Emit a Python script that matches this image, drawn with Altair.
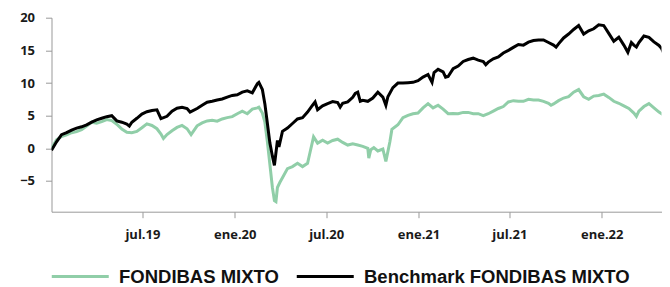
import altair as alt
import pandas as pd

START = "2019-01-01"
fund_name = "FONDIBAS MIXTO"
bench_name = "Benchmark FONDIBAS MIXTO"

# days since START
fund_days = [0, 10, 20, 30, 40, 50, 60, 70, 80, 90, 100, 110, 120, 130, 140, 150, 160, 170, 180, 190,
             200, 210, 218, 223, 230, 240, 250, 260, 270, 278, 290, 300, 310, 320, 330, 340, 350, 360,
             370, 380, 390, 400, 410, 413, 420, 425, 430, 435, 440, 444, 447, 450, 455, 460, 470, 480,
             490, 500, 510, 515, 522, 530, 540, 550, 560, 570, 580, 590, 600, 610, 620, 630, 632, 636,
             642, 650, 660, 666, 670, 674, 678, 690, 700, 710, 720, 730, 740, 750, 760, 770, 780, 790,
             800, 810, 820, 830, 840, 850, 860, 870, 880, 890, 900, 910, 920, 930, 940, 950, 960, 970,
             980, 990, 995, 1000, 1010, 1020, 1030, 1040, 1050, 1060, 1070, 1080, 1090, 1100, 1110,
             1120, 1130, 1140, 1150, 1160, 1165, 1170, 1180, 1190, 1200, 1210, 1220, 1225, 1233]
fund_values = [0.0, 1.3, 1.8, 2.05, 2.4, 2.55, 2.85, 3.4, 4.0, 3.85, 4.1, 4.4, 4.25, 3.7, 2.95, 2.45,
               2.4, 2.6, 3.15, 3.75, 3.5, 3.0, 2.2, 1.5, 2.1, 2.7, 3.2, 3.5, 3.0, 2.1, 3.45, 3.9, 4.2,
               4.3, 4.15, 4.5, 4.7, 4.85, 5.3, 5.7, 5.3, 6.0, 6.2, 6.3, 5.4, 4.0, 1.0, -2.5, -6.0, -8.0,
               -8.15, -6.0, -5.2, -4.5, -3.1, -2.8, -2.3, -2.8, -2.3, -0.6, 1.75, 0.8, 1.25, 0.8, 1.2,
               1.4, 0.9, 0.5, 0.7, 0.5, 0.3, 0.0, -1.5, -0.2, 0.1, -0.4, -0.1, -2.0, -0.5, 1.0, 2.9,
               3.6, 4.7, 5.05, 5.3, 5.4, 6.2, 6.85, 6.2, 6.6, 6.0, 5.3, 5.35, 5.3, 5.5, 5.5, 5.3, 5.3,
               5.0, 5.3, 5.7, 6.1, 6.4, 7.1, 7.3, 7.2, 7.2, 7.5, 7.4, 7.4, 7.2, 6.9, 6.6, 6.8, 7.3,
               7.7, 7.9, 8.6, 9.0, 7.9, 7.5, 8.0, 8.1, 8.3, 7.8, 7.2, 6.9, 6.5, 6.1, 5.4, 4.9, 5.7,
               6.4, 6.85, 6.2, 5.55, 5.06, 4.1, 4.6]

bench_days = [0, 10, 20, 30, 40, 50, 60, 70, 80, 90, 100, 110, 120, 130, 140, 150, 155, 160, 170, 180,
              190, 200, 210, 218, 230, 240, 250, 260, 270, 276, 290, 300, 310, 320, 330, 340, 350, 360,
              370, 380, 390, 400, 410, 413, 420, 425, 430, 435, 440, 444, 450, 453, 460, 470, 480, 490,
              500, 510, 520, 525, 530, 540, 550, 560, 570, 575, 580, 590, 600, 605, 610, 615, 620, 630,
              640, 650, 660, 666, 670, 680, 690, 700, 710, 720, 730, 740, 750, 758, 762, 770, 780, 785,
              790, 800, 810, 820, 830, 840, 850, 860, 865, 870, 880, 890, 900, 910, 920, 930, 940, 950,
              960, 970, 980, 990, 1000, 1005, 1010, 1020, 1030, 1040, 1050, 1060, 1070, 1080, 1090,
              1100, 1110, 1120, 1130, 1140, 1148, 1155, 1160, 1165, 1170, 1180, 1190, 1200, 1210, 1215,
              1220, 1228, 1233]
bench_values = [-0.3, 1.0, 2.1, 2.4, 2.8, 3.1, 3.3, 3.6, 4.0, 4.35, 4.6, 4.85, 5.0, 4.2, 4.0, 3.7, 3.4,
                4.0, 4.6, 5.25, 5.6, 5.8, 5.9, 4.55, 4.9, 5.7, 6.15, 6.3, 6.1, 5.55, 6.1, 6.6, 7.05,
                7.2, 7.4, 7.55, 7.85, 8.1, 8.2, 8.6, 8.8, 8.5, 9.9, 10.1, 9.0, 6.8, 3.8, 0.8, -1.2,
                -2.6, 1.2, 0.2, 2.6, 3.1, 3.8, 4.5, 4.7, 5.55, 6.6, 7.1, 5.9, 6.5, 6.85, 7.15, 7.0,
                6.3, 6.9, 7.1, 7.8, 8.4, 8.6, 7.2, 7.35, 7.2, 7.7, 8.6, 7.85, 6.6, 7.9, 9.3, 10.0,
                10.0, 10.05, 10.1, 10.35, 10.9, 11.3, 10.1, 11.6, 12.1, 11.7, 10.9, 11.0, 12.2, 12.6,
                13.3, 13.6, 13.8, 13.5, 13.3, 12.8, 13.2, 13.7, 14.0, 14.6, 15.0, 15.45, 15.9, 15.8,
                16.25, 16.5, 16.6, 16.6, 16.2, 15.8, 15.5, 16.0, 16.9, 17.5, 18.2, 18.8, 17.5, 18.0,
                18.3, 18.9, 18.8, 17.6, 16.4, 17.0, 15.8, 14.7, 16.2, 15.8, 15.5, 16.2, 17.2, 17.0,
                16.3, 15.75, 15.3, 14.5, 13.2, 13.6]

tick_dates = ["2019-07-01", "2020-01-01", "2020-07-01", "2021-01-01", "2021-07-01", "2022-01-01"]
tick_labels = ["jul.19", "ene.20", "jul.20", "ene.21", "jul.21", "ene.22"]
x_end = "2022-04-30"
y_ticks = [-5, 0, 5, 10, 15, 20]
y_domain = [-9.7, 20]

fund_color = "#90cea8"
bench_color = "#000000"

start = pd.Timestamp(START)
fund_df = pd.DataFrame({
    "fecha": start + pd.to_timedelta(fund_days, unit="D"),
    "valor": fund_values,
    "serie": fund_name,
})
bench_df = pd.DataFrame({
    "fecha": start + pd.to_timedelta(bench_days, unit="D"),
    "valor": bench_values,
    "serie": bench_name,
})


def to_dt(s):
    y, m, d = (int(p) for p in s.split("-"))
    return alt.DateTime(year=y, month=m, date=d)


label_expr = "''"
for d, lab in reversed(list(zip(tick_dates, tick_labels))):
    label_expr = f"timeFormat(datum.value, '%Y-%m-%d') == '{d}' ? '{lab}' : ({label_expr})"

x_enc = alt.X(
    "fecha:T",
    title=None,
    scale=alt.Scale(domain=[to_dt(START), to_dt(x_end)]),
    axis=alt.Axis(values=[to_dt(d) for d in tick_dates], labelExpr=label_expr,
                  labelPadding=11, tickSize=6, labelFlush=False),
)
y_enc = alt.Y(
    "valor:Q",
    title=None,
    scale=alt.Scale(domain=y_domain, nice=False, zero=False),
    axis=alt.Axis(values=y_ticks, labelPadding=11, tickSize=6),
)
color_scale = alt.Scale(domain=[fund_name, bench_name], range=[fund_color, bench_color])
legend = alt.Legend(
    title=None,
    orient="none",
    legendX=-3,
    legendY=249.5,
    direction="horizontal",
    columns=2,
    symbolType="M-1,0H8.5",
    symbolSize=144,
    symbolStrokeWidth=3,
    labelFont="Liberation Sans",
    labelFontWeight="bold",
    labelFontSize=18.5,
    labelColor="#111111",
    labelOffset=52,
    labelLimit=400,
    columnPadding=11,
    padding=0,
)

fund_line = alt.Chart(fund_df).mark_line(strokeWidth=3, clip=True).encode(
    x=x_enc, y=y_enc,
    color=alt.Color("serie:N", scale=color_scale, legend=legend),
)
bench_line = alt.Chart(bench_df).mark_line(strokeWidth=3, clip=True).encode(
    x=x_enc, y=y_enc,
    color=alt.Color("serie:N", scale=color_scale, legend=legend),
)

chart = alt.layer(fund_line, bench_line).properties(
    width=610, height=194,
    autosize=alt.AutoSizeParams(type="none"),
    padding={"left": 43.5, "top": 9.7, "right": 0, "bottom": 76},
).configure_view(stroke=None).configure_axis(
    grid=False,
    labelFont="Open Sans",
    labelFontWeight="bold",
    labelFontSize=13,
    labelColor="#1a1a1a",
    domainColor="#999999",
    tickColor="#999999",
)

chart.save("out.html", embed_options={"renderer": "svg", "actions": False})
